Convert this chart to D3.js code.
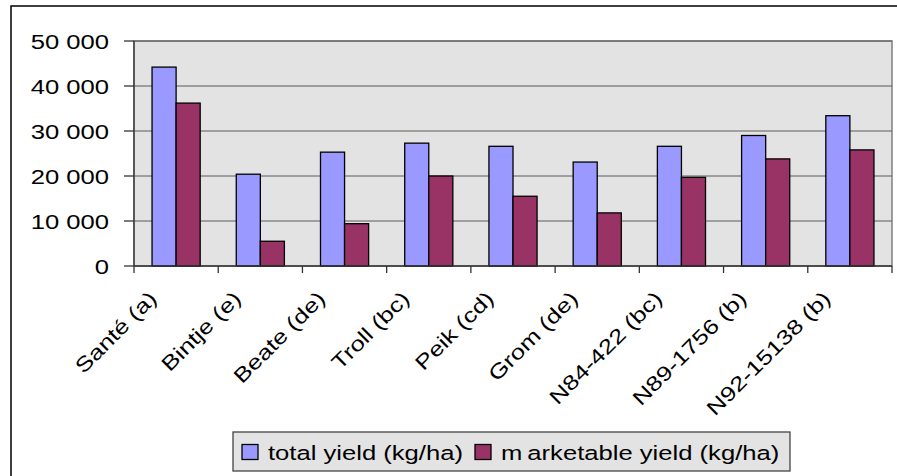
<!DOCTYPE html>
<html>
<head>
<meta charset="utf-8">
<script src="https://cdn.jsdelivr.net/npm/d3@7"></script>
<style>
  body { margin: 0; background: #fff; }
  svg { display: block; font-family: "Liberation Sans", Arial, sans-serif; }
</style>
</head>
<body>
<div id="chart"></div>
<script>
// --- data ---
const varieties = ["Santé (a)", "Bintje (e)", "Beate (de)", "Troll (bc)", "Peik (cd)",
                   "Grom (de)", "N84-422 (bc)", "N89-1756 (b)", "N92-15138 (b)"];
const totalYield = [44200, 20400, 25300, 27300, 26600, 23100, 26600, 29000, 33400];
const marketableYield = [36200, 5500, 9400, 20000, 15500, 11800, 19700, 23800, 25800];
const seriesNames = ["total yield (kg/ha)", "marketable yield (kg/ha)"];
const yTicks = [0, 10000, 20000, 30000, 40000, 50000];

const width = 897, height = 476;
const plot = { left: 134, top: 41, right: 892, bottom: 266 };
const colors = ["#9999FF", "#993366"];
const sx = 1.25; // the source font is drawn wide
const fontSize = "20.5px";

const svg = d3.select("#chart").append("svg")
    .attr("width", width)
    .attr("height", height);

// outer chart frame (cut off at right/bottom)
svg.append("rect")
    .attr("x", 11).attr("y", 6)
    .attr("width", 900).attr("height", 480)
    .attr("fill", "#fff")
    .attr("stroke", "#000")
    .attr("stroke-width", 1.5);

const x = d3.scaleBand()
    .domain(varieties)
    .range([plot.left, plot.right])
    .paddingInner(0).paddingOuter(0);

const y = d3.scaleLinear()
    .domain([0, 50000])
    .range([plot.bottom, plot.top]);

const bw = x.bandwidth();
const barW = bw / 3.5;
const x1 = d3.scaleBand()
    .domain([0, 1])
    .range([barW * 0.75, barW * 2.75]);

// plot background
svg.append("rect")
    .attr("x", plot.left).attr("y", plot.top)
    .attr("width", plot.right - plot.left)
    .attr("height", plot.bottom - plot.top)
    .attr("fill", "#E3E3E3")
    .attr("stroke", "#808080")
    .attr("stroke-width", 1.5);

// gridlines
svg.selectAll(".grid")
    .data(yTicks.filter(d => d > 0))
    .enter().append("line")
    .attr("x1", plot.left).attr("x2", plot.right)
    .attr("y1", d => y(d)).attr("y2", d => y(d))
    .attr("stroke", "#5a5a5a")
    .attr("stroke-width", 1);

// bars
const groups = svg.selectAll(".grp")
    .data(varieties)
    .enter().append("g")
    .attr("transform", d => `translate(${x(d)},0)`);

groups.selectAll("rect")
    .data((d, i) => [totalYield[i], marketableYield[i]])
    .enter().append("rect")
    .attr("x", (d, j) => x1(j))
    .attr("width", x1.bandwidth())
    .attr("y", d => y(d))
    .attr("height", d => y(0) - y(d))
    .attr("fill", (d, j) => colors[j])
    .attr("stroke", "#000")
    .attr("stroke-width", 1.3);

// y axis
svg.append("line")
    .attr("x1", plot.left).attr("x2", plot.left)
    .attr("y1", plot.top).attr("y2", plot.bottom)
    .attr("stroke", "#333").attr("stroke-width", 1.3);

svg.selectAll(".ytick")
    .data(yTicks)
    .enter().append("line")
    .attr("x1", plot.left - 10).attr("x2", plot.left)
    .attr("y1", d => y(d)).attr("y2", d => y(d))
    .attr("stroke", "#333").attr("stroke-width", 1.3);

svg.selectAll(".ylab")
    .data(yTicks)
    .enter().append("text")
    .attr("transform", d => `translate(109,${y(d) + 7.5}) scale(${sx},1)`)
    .attr("text-anchor", "end")
    .style("font-size", fontSize)
    .attr("fill", "#000")
    .text(d => d3.format(",")(d).replace(/,/g, " "));

// x axis
svg.append("line")
    .attr("x1", plot.left).attr("x2", plot.right)
    .attr("y1", plot.bottom).attr("y2", plot.bottom)
    .attr("stroke", "#333").attr("stroke-width", 1.3);

const bounds = varieties.map(d => x(d)).concat([plot.right]);
svg.selectAll(".xtick")
    .data(bounds)
    .enter().append("line")
    .attr("x1", d => d).attr("x2", d => d)
    .attr("y1", plot.bottom).attr("y2", plot.bottom + 7)
    .attr("stroke", "#333").attr("stroke-width", 1.3);

svg.selectAll(".xlab")
    .data(varieties)
    .enter().append("text")
    .attr("transform", d => `translate(${x(d) + bw / 2 - 18},${plot.bottom + 34}) rotate(-45) scale(${sx},1)`)
    .attr("text-anchor", "end")
    .style("font-size", fontSize)
    .attr("fill", "#000")
    .text(d => d);

// legend
const legend = svg.append("g");
legend.append("rect")
    .attr("x", 233).attr("y", 432)
    .attr("width", 557).attr("height", 39)
    .attr("fill", "#E3E3E3")
    .attr("stroke", "#444")
    .attr("stroke-width", 1.3);

const legendX = [242, 475];
seriesNames.forEach((name, i) => {
    legend.append("rect")
        .attr("x", legendX[i]).attr("y", 444.5)
        .attr("width", 16).attr("height", 15)
        .attr("fill", colors[i])
        .attr("stroke", "#000")
        .attr("stroke-width", 1.3);
    const t = legend.append("text")
        .attr("transform", `translate(${legendX[i] + 26},460) scale(${sx},1)`)
        .style("font-size", fontSize)
        .attr("fill", "#000");
    if (i === 1) {
        // the source spaces the first letter apart
        t.append("tspan").text(name.slice(0, 1));
        t.append("tspan").attr("dx", 4).text(name.slice(1));
    } else {
        t.text(name);
    }
});
</script>
</body>
</html>
